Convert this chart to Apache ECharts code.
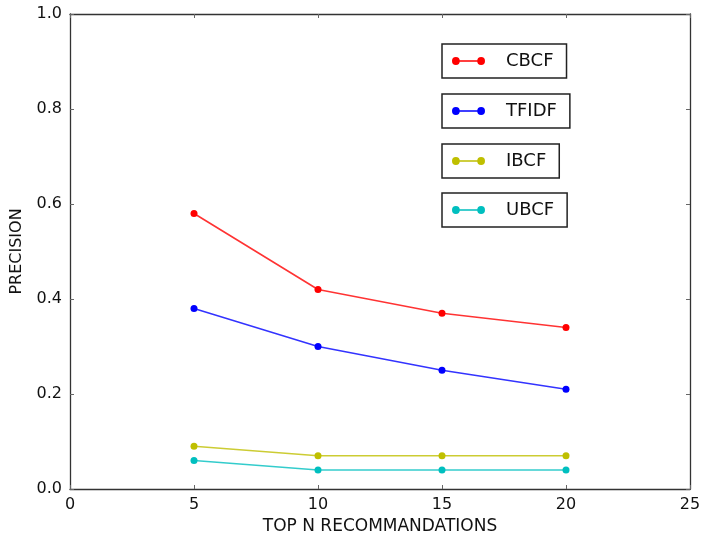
<!DOCTYPE html>
<html>
<head>
<meta charset="utf-8">
<script src="https://cdn.jsdelivr.net/npm/echarts@6/dist/echarts.min.js"></script>
<style>
html,body{margin:0;padding:0;background:#fff;}
#c{width:705px;height:544px;}
</style>
</head>
<body>
<div id="c"></div>
<script>
const topN = [5, 10, 15, 20];
const cbcf = [0.58, 0.42, 0.37, 0.34];
const tfidf = [0.38, 0.30, 0.25, 0.21];
const ibcf = [0.09, 0.07, 0.07, 0.07];
const ubcf = [0.06, 0.04, 0.04, 0.04];
const seriesNames = ['CBCF', 'TFIDF', 'IBCF', 'UBCF'];
const seriesColors = ['#ff0000', '#0000ff', '#bfbf00', '#00bfbf'];
const seriesValues = [cbcf, tfidf, ibcf, ubcf];
const xLabel = 'TOP N RECOMMANDATIONS';
const yLabel = 'PRECISION';

const FONT = 'DejaVu Sans';
const chart = echarts.init(document.getElementById('c'));
const icon = 'path://M0,4A4,4,0,1,1,8,4A4,4,0,1,1,0,4Z M4,3.3H30V4.7H4Z M26,4A4,4,0,1,1,34,4A4,4,0,1,1,26,4Z';
const legendTops = [44, 94, 144, 193];

const axisLineStyle = {show: true, onZero: false, lineStyle: {color: '#333', width: 1.3}};
const tickStyle = {show: true, inside: true, length: 4, lineStyle: {color: '#666'}};

chart.setOption({
  animation: false,
  backgroundColor: '#fff',
  textStyle: {fontFamily: FONT},
  grid: {left: 70, right: 15, top: 14, bottom: 55},
  legend: seriesNames.map((n, i) => ({
    data: [n],
    left: 442,
    top: legendTops[i],
    orient: 'horizontal',
    icon: icon,
    itemWidth: 33,
    itemHeight: 8,
    padding: [8, 13, 8, 10],
    borderColor: '#222',
    borderWidth: 1.5,
    backgroundColor: '#fff',
    textStyle: {fontFamily: FONT, fontSize: 18, color: '#111', padding: [0, 0, 0, 16]}
  })),
  xAxis: [{
    type: 'value', min: 0, max: 25, interval: 5,
    name: xLabel, nameLocation: 'middle', nameGap: 28,
    nameTextStyle: {fontFamily: FONT, fontSize: 17, color: '#111'},
    axisLine: axisLineStyle, axisTick: tickStyle,
    axisLabel: {fontFamily: FONT, fontSize: 16, color: '#111', margin: 8},
    splitLine: {show: false}
  }, {
    type: 'value', min: 0, max: 25, interval: 5, position: 'top',
    axisLine: axisLineStyle, axisTick: tickStyle,
    axisLabel: {show: false}, splitLine: {show: false}
  }],
  yAxis: [{
    type: 'value', min: 0, max: 1, interval: 0.2,
    name: yLabel, nameLocation: 'middle', nameGap: 45, nameRotate: 90,
    nameTextStyle: {fontFamily: FONT, fontSize: 16, color: '#111'},
    axisLine: axisLineStyle, axisTick: tickStyle,
    axisLabel: {fontFamily: FONT, fontSize: 16, color: '#111', margin: 8,
      formatter: v => v.toFixed(1)},
    splitLine: {show: false}
  }, {
    type: 'value', min: 0, max: 1, interval: 0.2, position: 'right',
    axisLine: axisLineStyle, axisTick: tickStyle,
    axisLabel: {show: false}, splitLine: {show: false}
  }],
  series: seriesNames.map((n, i) => ({
    name: n,
    type: 'line',
    data: topN.map((x, j) => [x, seriesValues[i][j]]),
    color: seriesColors[i],
    symbol: 'circle',
    symbolSize: 7,
    lineStyle: {width: 1.6, opacity: 0.8},
    itemStyle: {color: seriesColors[i]}
  }))
});
</script>
</body>
</html>
